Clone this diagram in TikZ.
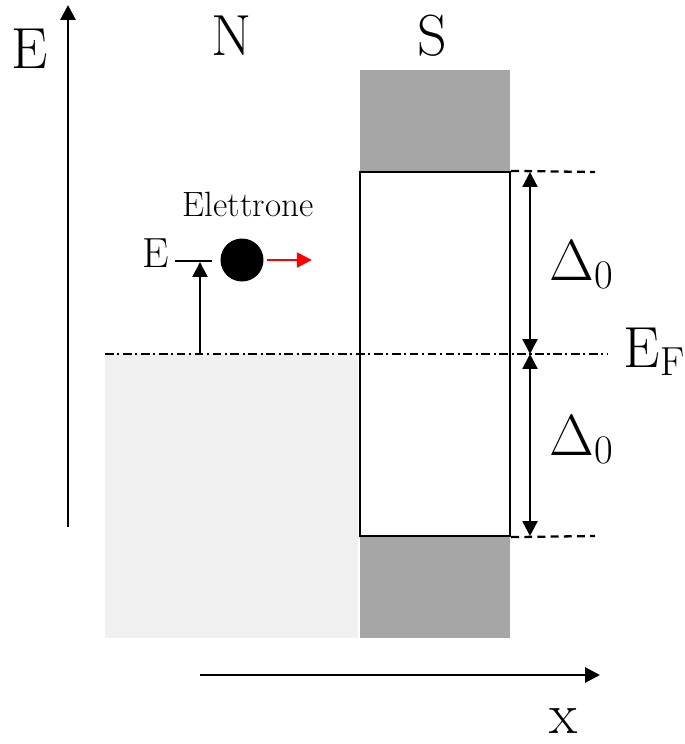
\RequirePackage{fix-cm}
\documentclass[tikz,border=0pt]{standalone}
\usetikzlibrary{arrows.meta,positioning}

\definecolor{nfill}{RGB}{240,240,240}
\definecolor{sfill}{RGB}{166,166,166}

\begin{document}
\begin{tikzpicture}[x=0.02cm,y=-0.02cm,>={Triangle[length=8.5pt,width=8.5pt]},
  big/.style={font=\fontsize{33}{38}\selectfont,inner sep=0pt},
  axis/.style={line width=1.6pt},
  thin/.style={line width=1.3pt},
  gapbox/.style={draw,line width=1.3pt,fill=white,minimum width=3cm,minimum height=7.28cm,inner sep=0pt},
  dashedlvl/.style={line width=1.3pt,dash pattern=on 4.5pt off 3pt},
  fermi/.style={line width=1.3pt,dash pattern=on 5pt off 2pt on 1.2pt off 2pt}]
\useasboundingbox (0,0) rectangle (684,744);

% N and S regions
\fill[nfill] (105,354) rectangle (358,638);
\fill[sfill] (360,70) rectangle (510,638);
\node[gapbox] (gap) at (435,354) {};

% axes
\coordinate (eo) at (68,527);
\coordinate (etop) at (68,5);
\coordinate (xo) at (200,675);
\coordinate (xend) at (600,675);
\draw[axis,->] (eo) -- (etop);
\draw[axis,->] (xo) -- (xend);
\node[big,anchor=base] (elab) at (30,68) {E};
\node[big,anchor=base] (xlab) at (564,733) {x};
\node[big,anchor=base] (nlab) at (232,55) {N};
\node[big,anchor=base] (slab) at (432,55) {S};

% Fermi level and gap edges
\coordinate (efl) at (105,354);
\coordinate (efr) at (607,354);
\draw[fermi] (efl) -- (efr);
\coordinate (topr) at (595,172);
\coordinate (botr) at (595,536);
\draw[dashedlvl] (gap.north east) -- (topr);
\draw[dashedlvl] (gap.south east) -- (botr);
\node[big,anchor=base west] (eflab) at (623,367) {E$_\mathrm{F}$};

% gap arrows
\coordinate (dtop) at (530,172);
\coordinate (dmid) at (530,354);
\coordinate (dbot) at (530,536);
\draw[thin,<->] (dtop) -- (dmid);
\draw[thin,<->] (dmid) -- (dbot);
\node[big,anchor=base west] (d1) at (549,280) {$\Delta_0$};
\node[big,anchor=base west] (d2) at (549,455) {$\Delta_0$};

% electron
\node[circle,fill=black,minimum size=0.86cm,inner sep=0pt] (electron) at (242,260) {};
\draw[red,thin,->] ([xshift=0.06cm]electron.east) -- ++(45,0);
\node[font=\fontsize{20}{24}\selectfont,inner sep=0pt,anchor=base] (elname) at (248,216) {Elettrone};
\coordinate (lvll) at (175,261);
\coordinate (lvlr) at (212,261);
\draw[thin] (lvll) -- (lvlr);
\node[font=\fontsize{24}{28}\selectfont,inner sep=0pt,anchor=base] (elev) at (156,267) {E};
\coordinate (lvlbase) at (200,354);
\coordinate (lvltop) at (200,262);
\draw[thin,->] (lvlbase) -- (lvltop);
\end{tikzpicture}
\end{document}
